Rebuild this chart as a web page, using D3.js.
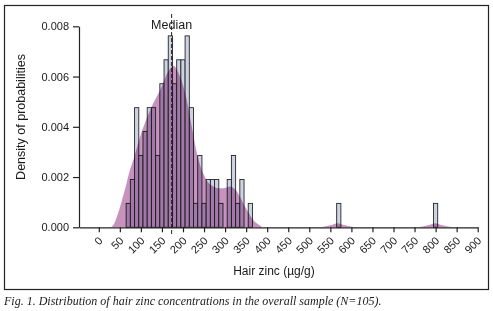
<!DOCTYPE html>
<html>
<head>
<meta charset="utf-8">
<script src="https://cdn.jsdelivr.net/npm/d3@7"></script>
<style>
  body { margin: 0; background: #fff; }
  svg text { font-family: "Liberation Sans", Arial, sans-serif; fill: #1a1a1a; }
</style>
</head>
<body>
<div id="chart"></div>
<script>
// histogram: lower edge of each 10 µg/g bin and the number of subjects in it
const binStarts = [65, 75, 85, 95, 105, 115, 125, 135, 145, 155, 165, 175, 185, 195, 205,
  215, 225, 235, 245, 255, 265, 275, 285, 295, 305, 315, 325, 335, 345, 355, 565, 795];
const binCounts = [1, 2, 5, 3, 4, 5, 5, 3, 6, 7, 8, 6, 7, 7, 8,
  5, 1, 3, 1, 2, 2, 2, 1, 0, 2, 3, 1, 2, 0, 1, 1, 1];
const N = 105;
const BIN_WIDTH = 10;

// kernel density curve: [µg/g, density]
const kdePoints = [
  [20, 0], [27, 0], [35, 0.0001], [43, 0.00042], [52, 0.0009], [62, 0.00149], [74, 0.00228],
  [82, 0.00268], [98, 0.0036], [122, 0.00467], [146, 0.00547], [165, 0.0062], [177, 0.00643],
  [193, 0.006], [209, 0.00507], [221, 0.004], [233, 0.00295], [248, 0.00215], [260, 0.00178],
  [272, 0.00162], [285, 0.00155], [296, 0.00155], [312, 0.00162], [328, 0.00142], [343, 0.00096],
  [355, 0.0006], [367, 0.00029], [380, 0.0001], [391, 0],
  [521, 0], [540, 0.00004], [555, 0.0001], [567, 0.00016], [580, 0.0001], [595, 0.00004], [614, 0],
  [752, 0], [772, 0.00004], [787, 0.0001], [799, 0.00016], [811, 0.0001], [826, 0.00004], [850, 0],
  [900, 0]
];
const medianValue = 173;

const xTicks = d3.range(0, 901, 50);
const yTicks = [0, 0.002, 0.004, 0.006, 0.008];

const W = 493, H = 311;
const svg = d3.select("#chart").append("svg")
  .attr("width", W)
  .attr("height", H);

// outer frame around the figure
svg.append("rect")
  .attr("x", 4.5).attr("y", 5.5)
  .attr("width", 484).attr("height", 284)
  .attr("fill", "none")
  .attr("stroke", "#222")
  .attr("stroke-width", 1.2);

const x = d3.scaleLinear().domain([-47, 900]).range([79, 477.7]);
const y = d3.scaleLinear().domain([0, 0.008]).range([227.3, 26.3]);

const bars = binStarts.map((s, i) => ({ x0: s, x1: s + BIN_WIDTH, d: binCounts[i] / (N * BIN_WIDTH) }))
  .filter(b => b.d > 0);

svg.append("g")
  .selectAll("rect")
  .data(bars)
  .join("rect")
    .attr("x", d => x(d.x0))
    .attr("y", d => y(d.d))
    .attr("width", d => x(d.x1) - x(d.x0))
    .attr("height", d => y(0) - y(d.d))
    .attr("fill", "#cdd3e3")
    .attr("stroke", "#262626")
    .attr("stroke-width", 0.9);

svg.append("path")
  .datum(kdePoints)
  .attr("d", d3.area()
    .x(d => x(d[0]))
    .y0(y(0))
    .y1(d => y(d[1]))
    .curve(d3.curveMonotoneX))
  .attr("fill", "#c792bd")
  .style("mix-blend-mode", "multiply");

// median marker
svg.append("line")
  .attr("x1", x(medianValue)).attr("x2", x(medianValue))
  .attr("y1", 14).attr("y2", 235)
  .attr("stroke", "#222")
  .attr("stroke-width", 1)
  .attr("stroke-dasharray", "4,2");
svg.append("text")
  .attr("x", x(medianValue))
  .attr("y", 29)
  .attr("text-anchor", "middle")
  .style("font-size", "12.5px")
  .text("Median");

// axes
const yAxis = svg.append("g")
  .attr("transform", "translate(79,0)")
  .call(d3.axisLeft(y).tickValues(yTicks).tickFormat(d3.format(".3f")).tickSize(6).tickPadding(4).tickSizeOuter(0));
yAxis.selectAll("text").style("font-size", "11px");

const xAxis = svg.append("g")
  .attr("transform", `translate(0,${y(0)})`)
  .call(d3.axisBottom(x).tickValues(xTicks).tickSize(5).tickSizeOuter(0));
xAxis.selectAll("text")
  .attr("x", 0).attr("y", 0).attr("dy", null)
  .attr("transform", "translate(4,14) rotate(-45)")
  .style("text-anchor", "end")
  .style("font-size", "11px");
svg.selectAll(".domain, .tick line").attr("stroke", "#222").attr("stroke-width", 1.2);

svg.append("text")
  .attr("x", 274).attr("y", 275)
  .attr("text-anchor", "middle")
  .style("font-size", "12px")
  .text("Hair zinc (µg/g)");

svg.append("text")
  .attr("transform", "translate(25,117) rotate(-90)")
  .attr("text-anchor", "middle")
  .style("font-size", "12.5px")
  .text("Density of probabilities");

svg.append("text")
  .attr("x", 4).attr("y", 305)
  .style("font-family", "'Liberation Serif', serif")
  .style("font-style", "italic")
  .style("font-size", "12px")
  .text("Fig. 1. Distribution of hair zinc concentrations in the overall sample (N=105).");
</script>
</body>
</html>
